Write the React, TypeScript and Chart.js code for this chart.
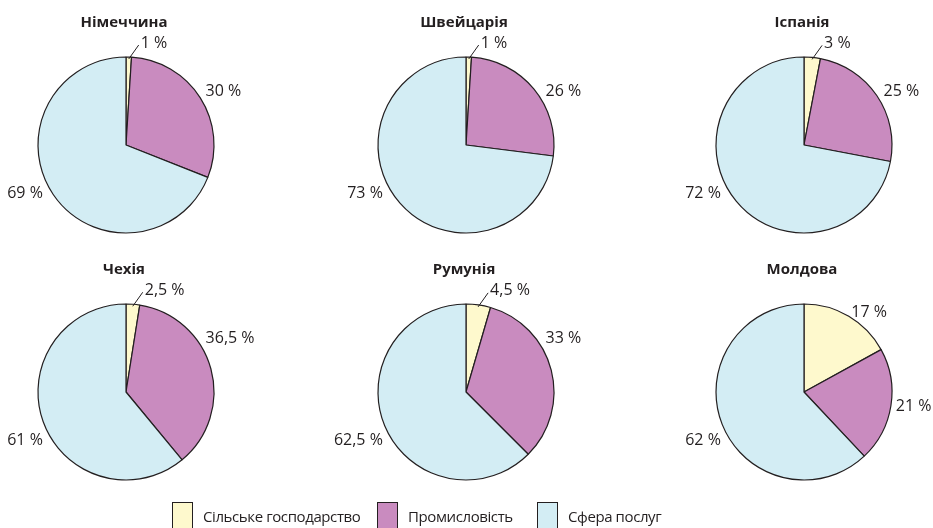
import React, { useEffect, useRef } from "react";
import { Chart, registerables } from "chart.js";

Chart.register(...registerables);

// ---- data ----
const countries = ["Німеччина", "Швейцарія", "Іспанія", "Чехія", "Румунія", "Молдова"];
const sectors = ["Сільське господарство", "Промисловість", "Сфера послуг"];
const agriculture = [1, 1, 3, 2.5, 4.5, 17];
const industry = [30, 26, 25, 36.5, 33, 21];
const services = [69, 73, 72, 61, 62.5, 62];
const sectorColors = ["#FEF9CD", "#C98BBF", "#D3EDF4"];

// ---- layout / style ----
const INK = "#231F20";
const FONT = '"Open Sans", "Noto Sans", sans-serif';
const COL_X = [126, 466, 804];
const ROW_Y = [145, 392];
const RADIUS = 88;
const CW = 320;
const CH = 270;
const LEGEND_ITEM_W = [205, 160, 200];

const labelPlugin = {
  id: "sliceLabels",
  afterDatasetsDraw(chart: any) {
    const ctx = chart.ctx;
    const meta = chart.getDatasetMeta(0);
    const values = chart.data.datasets[0].data as number[];
    const title = chart.options.plugins.sliceLabels.title;
    const first = meta.data[0];
    const { x: cx, y: cy, outerRadius: r } = first.getProps(["x", "y", "outerRadius"], true);
    ctx.save();
    ctx.fillStyle = INK;
    ctx.strokeStyle = INK;
    // title
    ctx.font = `bold 15px ${FONT}`;
    ctx.textAlign = "center";
    ctx.textBaseline = "alphabetic";
    ctx.fillText(title, cx - 2, cy - r - 30);
    // labels
    ctx.font = `16px ${FONT}`;
    const toClock = (a: number) => (((a * 180) / Math.PI + 90) % 360 + 360) % 360;
    const pt = (deg: number, R: number) => {
      const a = ((deg - 90) * Math.PI) / 180;
      return [cx + Math.cos(a) * R, cy + Math.sin(a) * R];
    };
    meta.data.forEach((arc: any, i: number) => {
      const v = values[i];
      const { startAngle, endAngle } = arc.getProps(["startAngle", "endAngle"], true);
      const text = String(v).replace(".", ",") + " %";
      const s = toClock(startAngle);
      const e = s + ((endAngle - startAngle) * 180) / Math.PI;
      const mid = (s + e) / 2;
      if (v < 5) {
        const [x0, y0] = pt(mid, r - 2);
        const x1 = x0 + 10;
        const y1 = y0 - 14;
        ctx.lineWidth = 1;
        ctx.beginPath();
        ctx.moveTo(x0, y0);
        ctx.lineTo(x1, y1);
        ctx.stroke();
        ctx.textAlign = "left";
        ctx.textBaseline = "middle";
        ctx.fillText(text, x1 + 2, y1 - 2);
        return;
      }
      const right = mid < 180;
      const pref = right ? 56 : 240;
      const usePref = pref >= s + 10 && pref <= e - 10;
      const ang = usePref ? pref : mid;
      const [lx, ly] = pt(ang, usePref ? 96 : 93);
      ctx.textAlign = right ? "left" : "right";
      ctx.textBaseline = "middle";
      ctx.fillText(text, lx, ly);
    });
    ctx.restore();
  },
};

function PieCard({ index }: { index: number }) {
  const ref = useRef<HTMLCanvasElement | null>(null);
  useEffect(() => {
    if (!ref.current) return;
    const chart = new Chart(ref.current, {
      type: "pie",
      data: {
        labels: sectors,
        datasets: [
          {
            data: [agriculture[index], industry[index], services[index]],
            backgroundColor: sectorColors,
            borderColor: INK,
            borderWidth: 1.2,
          },
        ],
      },
      options: {
        responsive: false,
        animation: false,
        devicePixelRatio: 1,
        events: [],
        radius: RADIUS,
        layout: { padding: 0 },
        plugins: {
          legend: { display: false },
          tooltip: { enabled: false },
          title: { display: false },
          sliceLabels: { title: countries[index] },
        },
      } as any,
      plugins: [labelPlugin],
    });
    return () => chart.destroy();
  }, [index]);
  const cx = COL_X[index % 3];
  const cy = ROW_Y[Math.floor(index / 3)];
  return (
    <canvas
      ref={ref}
      width={CW}
      height={CH}
      style={{ position: "absolute", left: cx - CW / 2, top: cy - CH / 2, width: CW, height: CH }}
    />
  );
}

export default function App() {
  return (
    <div
      style={{
        position: "fixed",
        left: 0,
        top: 0,
        width: 933,
        height: 528,
        background: "#fff",
        overflow: "hidden",
        fontFamily: FONT,
        color: INK,
      }}
    >
      {countries.map((c, i) => (
        <PieCard key={c} index={i} />
      ))}
      <div style={{ position: "absolute", left: 172, top: 502, display: "flex", alignItems: "center" }}>
        {sectors.map((s, i) => (
          <div key={s} style={{ display: "flex", alignItems: "center", width: LEGEND_ITEM_W[i] }}>
            <div
              style={{
                width: 21,
                height: 28,
                boxSizing: "border-box",
                border: `1px solid ${INK}`,
                background: sectorColors[i],
                marginRight: 10,
                flex: "none",
              }}
            />
            <span style={{ fontSize: 15, letterSpacing: "-0.4px", whiteSpace: "nowrap", lineHeight: "20px" }}>{s}</span>
          </div>
        ))}
      </div>
    </div>
  );
}
